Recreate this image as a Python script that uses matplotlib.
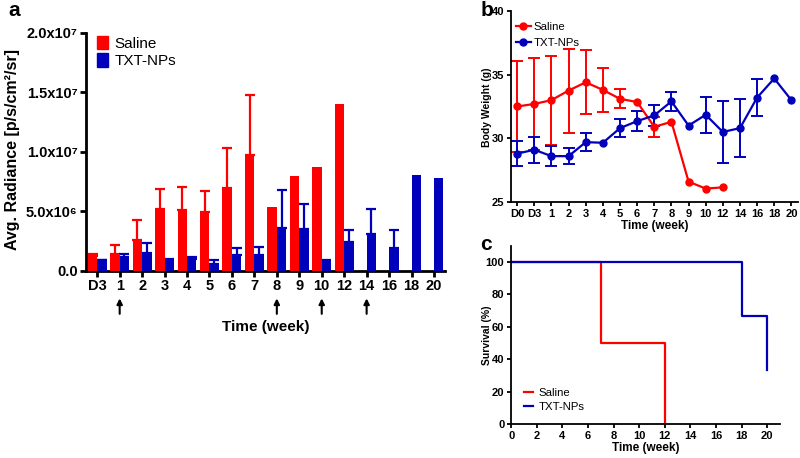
import numpy as np
import matplotlib
matplotlib.use('Agg')
import matplotlib.pyplot as plt
from matplotlib.ticker import FuncFormatter, MultipleLocator
from matplotlib.patches import Patch
from matplotlib.lines import Line2D

plt.rcParams['font.family'] = ['Liberation Sans', 'DejaVu Sans']

RED = '#ff0000'
BLUE = '#0000bb'
nan = np.nan

# ---- panel a: bioluminescence radiance ----
rad_weeks = ['D3', '1', '2', '3', '4', '5', '6', '7', '8', '9', '10', '12', '14', '16', '18', '20']
sal_rad = [1.3e6, 1.45e6, 2.6e6, 5.2e6, 5.1e6, 4.95e6, 7.0e6, 9.75e6, 5.4e6, 7.95e6, 8.75e6, 14.0e6,
           nan, nan, nan, nan]
sal_rad_err = [0.1e6, 0.75e6, 1.7e6, 1.7e6, 2.0e6, 1.8e6, 3.3e6, 5.05e6, 0, 0, 0, 0, 0, 0, 0, 0]
txt_rad = [0.9e6, 1.2e6, 1.55e6, 0.95e6, 1.0e6, 0.55e6, 1.35e6, 1.35e6, 3.6e6, 3.5e6, 0.75e6, 2.45e6,
           3.15e6, 1.95e6, 8.05e6, 7.8e6]
txt_rad_err = [0.05e6, 0.25e6, 0.8e6, 0.05e6, 0.2e6, 0.35e6, 0.55e6, 0.65e6, 3.2e6, 2.15e6, 0.2e6, 1.0e6,
               2.05e6, 1.5e6, 0, 0]
treat_weeks = ['1', '8', '10', '14']  # arrows under these weeks

# ---- panel b: body weight ----
wt_weeks = ['D0', 'D3', '1', '2', '3', '4', '5', '6', '7', '8', '9', '10', '12', '14', '16', '18', '20']
sal_wt = [32.5, 32.7, 33.0, 33.75, 34.4, 33.8, 33.1, 32.85, 30.9, 31.3, 26.6, 26.05, 26.15,
          nan, nan, nan, nan]
sal_wt_sd = [3.6, 3.6, 3.5, 3.3, 2.5, 1.75, 0.75, 0, 0.8, 0, 0, 0, 0, 0, 0, 0, 0]
txt_wt = [28.8, 29.1, 28.6, 28.6, 29.7, 29.65, 30.8, 31.35, 31.8, 32.9, 31.0, 31.85, 30.5,
          30.8, 33.2, 34.7, 33.0]
txt_wt_sd = [1.0, 1.0, 0.8, 0.65, 0.7, 0, 0.7, 0.8, 0.85, 0.75, 0, 1.4, 2.4, 2.3, 1.45, 0, 0]

# ---- panel c: survival ----
sal_t = [0, 7, 12]
sal_surv = [100, 50, 0]
txt_t = [0, 18, 20]
txt_surv = [100, 66.7, 33.3]

fig = plt.figure(figsize=(8, 4.58), dpi=100)


def style_axes(ax, lw, tick_fs, ticklen):
    for s in ['top', 'right']:
        ax.spines[s].set_visible(False)
    for s in ['left', 'bottom']:
        ax.spines[s].set_linewidth(lw)
    ax.tick_params(width=lw, length=ticklen, labelsize=tick_fs, pad=2)
    for lab in ax.get_xticklabels() + ax.get_yticklabels():
        lab.set_fontweight('bold')


# panel a
axa = fig.add_axes([0.1075, 0.4083, 0.449, 0.5197])
x = np.arange(len(rad_weeks))
w = 0.42
axa.bar(x - w / 2, sal_rad, w, color=RED, zorder=3)
axa.bar(x + w / 2, txt_rad, w, color=BLUE, zorder=3)
for off, vals, errs, col in [(-w / 2, sal_rad, sal_rad_err, RED), (w / 2, txt_rad, txt_rad_err, BLUE)]:
    vals = np.array(vals)
    errs = np.array(errs)
    m = errs > 0
    axa.errorbar(x[m] + off, vals[m], yerr=[np.zeros(m.sum()), errs[m]], fmt='none',
                 ecolor=col, elinewidth=1.6, capsize=3.5, capthick=1.6, zorder=2)
axa.set_xlim(-0.5, 15.5)
axa.set_ylim(0, 2e7)
axa.yaxis.set_major_locator(MultipleLocator(5e6))
sup = {6: '\u2076', 7: '\u2077'}


def sci_fmt(v, pos):
    if v <= 0:
        return '0.0'
    e = int(np.floor(np.log10(v)))
    return '%.1fx10%s' % (v / 10 ** e, sup.get(e, str(e)))


axa.yaxis.set_major_formatter(FuncFormatter(sci_fmt))
axa.set_xticks(x)
axa.set_xticklabels(rad_weeks)
style_axes(axa, 2.0, 10.5, 4)
for wk in treat_weeks:
    i = rad_weeks.index(wk)
    axa.annotate('', xy=(i, -0.115), xytext=(i, -0.18),
                 xycoords=axa.get_xaxis_transform(), textcoords=axa.get_xaxis_transform(),
                 arrowprops=dict(arrowstyle='-|>', color='black', lw=1.5, mutation_scale=8,
                                 shrinkA=0, shrinkB=0))
axa.text(0.5, -0.235, 'Time (week)', transform=axa.transAxes, ha='center', va='center',
         fontsize=11, fontweight='bold')
fig.text(13 / 800, 1 - 150 / 458, 'Avg. Radiance [p/s/cm\u00b2/sr]', rotation=90, ha='center',
         va='center', fontsize=11.5, fontweight='bold')
axa.legend(handles=[Patch(color=RED, label='Saline'), Patch(color=BLUE, label='TXT-NPs')],
           loc='upper left', bbox_to_anchor=(0.015, 1.015), frameon=False, fontsize=11,
           handlelength=0.7, handleheight=1.0, handletextpad=0.4, labelspacing=0.15,
           borderaxespad=0)

# panel b
axb = fig.add_axes([0.639, 0.559, 0.3588, 0.417])
xb = np.arange(len(wt_weeks))
for vals, errs, col in [(sal_wt, sal_wt_sd, RED), (txt_wt, txt_wt_sd, BLUE)]:
    vals = np.array(vals)
    errs = np.array(errs)
    m = errs > 0
    axb.errorbar(xb[m], vals[m], yerr=errs[m], fmt='none', ecolor=col, elinewidth=1.4,
                 capsize=4, capthick=1.4, zorder=2)
    axb.plot(xb, vals, color=col, lw=1.6, marker='o', ms=5, zorder=3)
axb.set_xlim(-0.35, 16.4)
axb.set_ylim(25, 40)
axb.set_yticks([25, 30, 35, 40])
axb.set_xticks(xb)
axb.set_xticklabels(wt_weeks)
style_axes(axb, 1.3, 8, 3)
axb.set_xlabel('Time (week)', fontsize=8.5, fontweight='bold', labelpad=1)
fig.text(487 / 800, 1 - 107 / 458, 'Body Weight (g)', rotation=90, ha='center', va='center',
         fontsize=7.5, fontweight='bold')
axb.legend(handles=[Line2D([], [], color=RED, lw=1.6, marker='o', ms=5, label='Saline'),
                    Line2D([], [], color=BLUE, lw=1.6, marker='o', ms=5, label='TXT-NPs')],
           loc='upper left', bbox_to_anchor=(0.0, 0.965), frameon=False, fontsize=8.2,
           handlelength=1.3, handletextpad=0.3, labelspacing=0.5, borderaxespad=0)

# panel c
axc = fig.add_axes([0.639, 0.0742, 0.336, 0.389])
axc.step(sal_t, sal_surv, where='post', color=RED, lw=1.6)
axc.step(txt_t, txt_surv, where='post', color=BLUE, lw=1.6)
axc.set_xlim(0, 21)
axc.set_ylim(0, 110)
axc.set_yticks(range(0, 101, 20))
axc.set_xticks(range(0, 21, 2))
style_axes(axc, 1.3, 8, 3)
axc.set_xlabel('Time (week)', fontsize=8.5, fontweight='bold', labelpad=1)
fig.text(487 / 800, 1 - 335 / 458, 'Survival (%)', rotation=90, ha='center', va='center',
         fontsize=7.5, fontweight='bold')
axc.legend(handles=[Line2D([], [], color=RED, lw=1.6, label='Saline'),
                    Line2D([], [], color=BLUE, lw=1.6, label='TXT-NPs')],
           loc='lower left', bbox_to_anchor=(0.03, 0.04), frameon=False, fontsize=8.2,
           handlelength=0.8, handletextpad=0.5, labelspacing=0.4, borderaxespad=0)

# panel letters
fig.text(14 / 800, 1 - 11 / 458, 'a', fontsize=15, fontweight='bold', ha='center', va='center')
fig.text(487 / 800, 1 - 11 / 458, 'b', fontsize=15, fontweight='bold', ha='center', va='center')
fig.text(486 / 800, 1 - 245 / 458, 'c', fontsize=15, fontweight='bold', ha='center', va='center')

fig.savefig('out.png', dpi=100)
